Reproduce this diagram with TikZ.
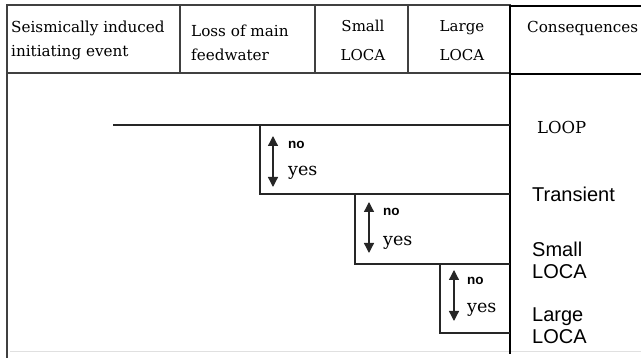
\documentclass[tikz,border=0pt]{standalone}
\usepackage{fontspec}
\setmainfont{DejaVu Serif}
\newfontfamily\lsans{Liberation Sans}
\usetikzlibrary{arrows.meta}
\begin{document}
\begin{tikzpicture}[x=1pt,y=-1pt,
  frame/.style={draw=black!75,line width=1.6pt},
  cframe/.style={draw=black,line width=2pt},
  tree/.style={draw=black!85,line width=1.5pt},
  dbl/.style={draw=black!85,line width=1.3pt,{Triangle[width=10pt,length=10pt]}-{Triangle[width=10pt,length=10pt]}},
  hdr/.style={inner sep=0pt,font=\fontsize{15.2}{24}\selectfont,align=left},
  hdrc/.style={inner sep=0pt,font=\fontsize{15}{29}\selectfont,align=center},
  cons/.style={inner sep=0pt,anchor=base west,font=\lsans\fontsize{20}{22}\selectfont,align=left},
  nolab/.style={inner sep=0pt,anchor=base west,font=\lsans\bfseries\fontsize{13.5}{14}\selectfont},
  yeslab/.style={inner sep=0pt,anchor=base west,font=\fontsize{17.5}{18}\selectfont},
]
\useasboundingbox (0,0) rectangle (641,358);
% frame
\draw[draw=black!12,line width=1pt] (10,352) -- (641,352);
\draw[frame] (7,5) -- (511,5);
\draw[frame] (7,4.2) -- (7,358);
\draw[frame] (7,73) -- (511,73);
\draw[frame] (180,5) -- (180,73);
\draw[frame] (315,5) -- (315,73);
\draw[frame] (408,5) -- (408,73);
\draw[cframe] (510,354) -- (510,6.5) -- (641,6.5);
\draw[cframe] (510,74) -- (641,74);
% headers
\node[hdr,anchor=base west] (h1) at (11,57) {Seismically induced\\initiating event};
\node[hdr,anchor=base west] (h2) at (191,61) {Loss of main\\feedwater};
\node[hdrc,anchor=base] (h3) at (363,61) {Small\\LOCA};
\node[hdrc,anchor=base] (h4) at (462,61) {Large\\LOCA};
\node[hdr,anchor=base west] (h5) at (527,33) {Consequences};
% tree
\coordinate (s0) at (113,125);
\coordinate (e0) at (510,125);
\coordinate (v1) at (260,125);
\coordinate (w1) at (260,194);
\coordinate (e1) at (510,194);
\coordinate (v2) at (355,194);
\coordinate (w2) at (355,264);
\coordinate (e2) at (510,264);
\coordinate (v3) at (440,264);
\coordinate (w3) at (440,333);
\coordinate (e3) at (510,333);
\draw[tree] (s0) -- (e0);
\draw[tree] (v1) -- (w1) -- (e1);
\draw[tree] (v2) -- (w2) -- (e2);
\draw[tree] (v3) -- (w3) -- (e3);
% arrows
\coordinate (a1t) at (273,136);
\coordinate (a1b) at (273,187);
\coordinate (a2t) at (369,202);
\coordinate (a2b) at (369,253);
\coordinate (a3t) at (454,270);
\coordinate (a3b) at (454,321);
\draw[dbl] (a1t) -- (a1b);
\draw[dbl] (a2t) -- (a2b);
\draw[dbl] (a3t) -- (a3b);
\node[nolab] (n1) at (288,149) {no};
\node[yeslab] (y1) at (288,176) {yes};
\node[nolab] (n2) at (383,216) {no};
\node[yeslab] (y2) at (383,246) {yes};
\node[nolab] (n3) at (467,285) {no};
\node[yeslab] (y3) at (467,313) {yes};
% consequences
\node[inner sep=0pt,anchor=base west,font=\fontsize{16.5}{16}\selectfont] (c1) at (537,134) {LOOP};
\node[cons] (c2) at (532,202) {Transient};
\node[cons] (c3) at (532,279) {Small\\LOCA};
\node[cons] (c4) at (532,344) {Large\\LOCA};
\end{tikzpicture}
\end{document}
